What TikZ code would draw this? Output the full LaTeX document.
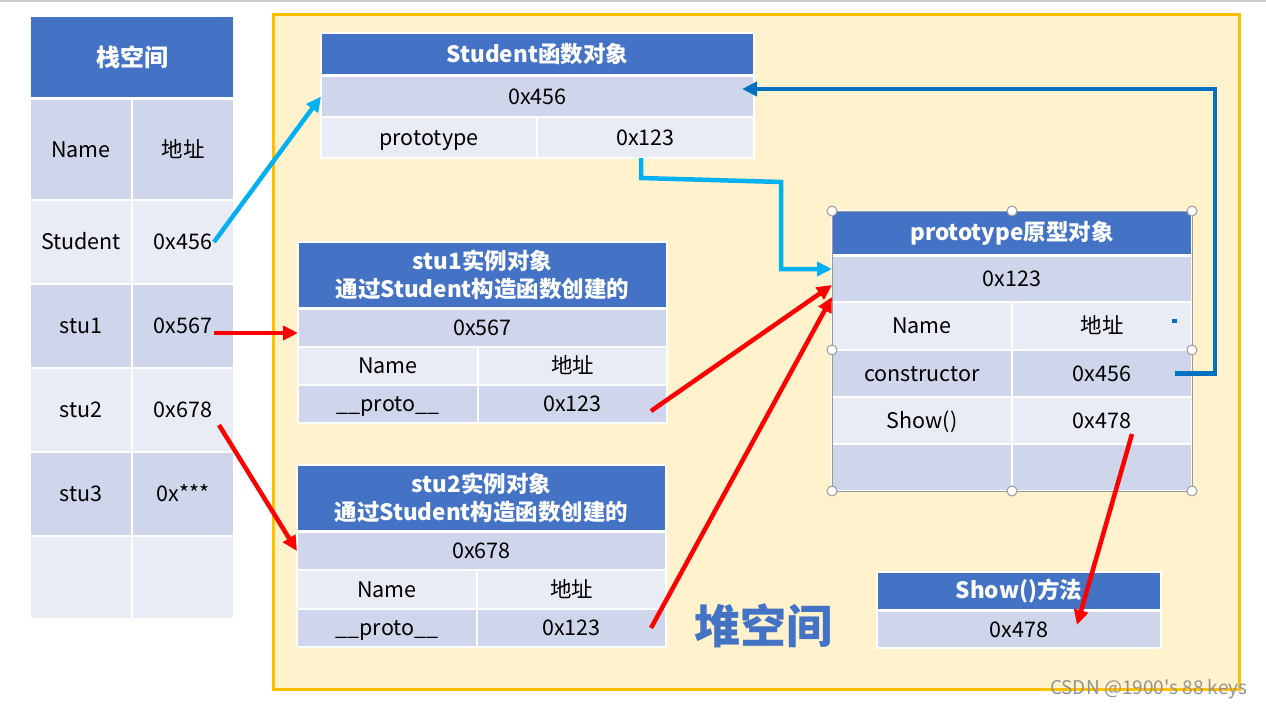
\documentclass[tikz,border=0pt]{standalone}
\usepackage{fontspec}
\setmainfont{Noto Sans CJK SC}
\usetikzlibrary{arrows.meta}
\definecolor{hblue}{HTML}{4472C4}
\definecolor{rdark}{HTML}{CFD5EA}
\definecolor{rlight}{HTML}{E9EBF5}
\definecolor{heapfill}{HTML}{FFF2CC}
\definecolor{heapline}{HTML}{FFC000}
\definecolor{cyanA}{HTML}{00B0F0}
\definecolor{blueA}{HTML}{0070C0}
\definecolor{redA}{HTML}{FF0000}
\definecolor{handlegray}{HTML}{9A9A9A}
\tikzset{
  cellbase/.style={rectangle, draw=white, line width=1.5pt, inner sep=0pt, outer sep=0pt,
    text=black, align=center, font=\fontsize{21.5}{26}\selectfont},
  dk/.style={cellbase, fill=rdark, text height=19pt, text depth=4pt},
  lt/.style={cellbase, fill=rlight, text height=19pt, text depth=4pt},
  hd/.style={cellbase, fill=hblue, text=white, font=\bfseries\fontsize{22.5}{28}\selectfont},
  arr/.style={line width=4.5pt, -{Triangle[length=15pt,width=14pt]}},
  cyanarr/.style={arr, draw=cyanA},
  redarr/.style={arr, draw=redA},
  bluearr/.style={arr, draw=blueA},
  handle/.style={circle, draw=handlegray, fill=white, line width=1pt, minimum size=10pt, inner sep=0pt}
}
\newcommand\mkcell[7]{\node[#1, minimum width={(#4-#2)*1pt}, minimum height={(#5-#3)*1pt}] (#6) at ({(#2+#4)/2},{(#3+#5)/2}) {#7};}
\begin{document}
\begin{tikzpicture}[x=1pt,y=-1pt]
\useasboundingbox (0,0) rectangle (1266,710);
\fill[white] (0,0) rectangle (1266,710);
\draw[gray!40, line width=1.5pt] (0,1) -- (1266,1);

% stack table
\mkcell{hd,font=\bfseries\fontsize{24}{28}\selectfont}{30}{16}{234}{98}{sH}{栈空间}
\mkcell{dk}{30}{99}{132}{200}{sN}{Name}
\mkcell{dk}{132}{99}{234}{200}{sNA}{地址}
\mkcell{lt}{30}{200}{132}{284}{sS}{Student}
\mkcell{lt}{132}{200}{234}{284}{sSA}{0x456}
\mkcell{dk}{30}{284}{132}{368}{s1}{stu1}
\mkcell{dk}{132}{284}{234}{368}{s1A}{0x567}
\mkcell{lt}{30}{368}{132}{452}{s2}{stu2}
\mkcell{lt}{132}{368}{234}{452}{s2A}{0x678}
\mkcell{dk}{30}{452}{132}{536}{s3}{stu3}
\mkcell{dk}{132}{452}{234}{536}{s3A}{0x***}
\mkcell{lt}{30}{536}{132}{619}{s4}{}
\mkcell{lt}{132}{536}{234}{619}{s4A}{}

% heap
\draw[heapline, line width=3pt, fill=heapfill] (273,14) rectangle (1239,689);
\node[text=hblue, font=\bfseries\fontsize{46}{50}\selectfont] (heapT) at (763,626) {堆空间};

% Student function object
\mkcell{hd}{321}{33}{754}{75}{fH}{Student函数对象}
\mkcell{dk}{321}{76}{754}{117}{fR}{0x456}
\mkcell{lt}{321}{117}{537}{158}{fP}{prototype}
\mkcell{lt}{537}{117}{754}{158}{fPA}{0x123}

% stu1
\mkcell{hd}{298}{242}{667}{308}{aH}{stu1实例对象\\通过Student构造函数创建的}
\mkcell{dk}{298}{309}{667}{347}{aR}{0x567}
\mkcell{lt}{298}{347}{478}{385}{aN}{Name}
\mkcell{lt}{478}{347}{667}{385}{aNA}{地址}
\mkcell{dk}{298}{385}{478}{423}{aP}{\_\_proto\_\_}
\mkcell{dk}{478}{385}{667}{423}{aPA}{0x123}

% stu2
\mkcell{hd}{297}{465}{666}{531}{bH}{stu2实例对象\\通过Student构造函数创建的}
\mkcell{dk}{297}{532}{666}{570}{bR}{0x678}
\mkcell{lt}{297}{570}{477}{609}{bN}{Name}
\mkcell{lt}{477}{570}{666}{609}{bNA}{地址}
\mkcell{dk}{297}{609}{477}{647}{bP}{\_\_proto\_\_}
\mkcell{dk}{477}{609}{666}{647}{bPA}{0x123}

% prototype object
\mkcell{hd}{832}{211}{1192}{255}{pH}{prototype原型对象}
\mkcell{dk}{832}{256}{1192}{302}{pR}{0x123}
\mkcell{lt}{832}{302}{1012}{350}{pN}{Name}
\mkcell{lt}{1012}{302}{1192}{350}{pNA}{地址}
\mkcell{dk}{832}{350}{1012}{397}{pC}{constructor}
\mkcell{dk}{1012}{350}{1192}{397}{pCA}{0x456}
\mkcell{lt}{832}{397}{1012}{444}{pS}{Show()}
\mkcell{lt}{1012}{397}{1192}{444}{pSA}{0x478}
\mkcell{dk}{832}{444}{1012}{491}{pE}{}
\mkcell{dk}{1012}{444}{1192}{491}{pEA}{}
\fill[blueA] (1172,319) rectangle (1177,323);
\draw[handlegray, line width=1pt] (832,211) rectangle (1192,491);
\foreach \hx/\hy [count=\i] in {832/211,1012/211,1192/211,832/350,1192/350,832/491,1012/491,1192/491}
  \node[handle] (h\i) at (\hx,\hy) {};

% Show method
\mkcell{hd}{877}{572}{1161}{610}{mH}{Show()方法}
\mkcell{dk}{877}{611}{1161}{648}{mR}{0x478}

% connectors
\draw[cyanarr] ([xshift=-20pt]sSA.east) -- (fR.west);
\draw[redarr] ([xshift=-20pt,yshift=-7pt]s1A.east) -- ([yshift=-5pt]aR.west);
\draw[redarr] ([xshift=-15pt,yshift=-15pt]s2A.east) -- (bR.west);
\draw[redarr] ([xshift=-16pt,yshift=-7pt]aPA.east) -- ([yshift=-6pt]pR.west);
\draw[redarr] ([xshift=-15pt]bPA.east) -- ([yshift=-18pt]pR.west);
\draw[cyanarr] ([xshift=-4.5pt]fPA.south) -- ++(0,20) -- (781,182) -- (781,269) -- ([yshift=10pt]pR.west);
\draw[bluearr] ([xshift=-17pt]pCA.east) -- (1215,373.5) -- (1215,89) -- ([xshift=-12pt,yshift=7.5pt]fR.east);
\draw[redarr] ([xshift=30pt,yshift=-13.5pt]pSA.center) -- ([xshift=58pt,yshift=4.5pt]mR.center);

% watermark
\node[anchor=east, text=gray!85, font=\fontsize{19}{22}\selectfont] (wm) at (1251,689) {CSDN @1900\textquotesingle s 88 keys};
\end{tikzpicture}
\end{document}
